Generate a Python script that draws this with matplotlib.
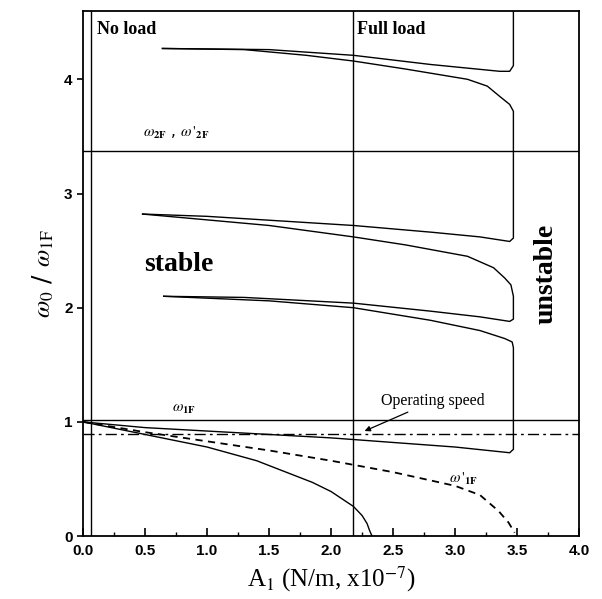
import matplotlib
matplotlib.use("Agg")
import matplotlib.pyplot as plt
import numpy as np

plt.rcParams["mathtext.fontset"] = "stix"

# ---- data ----
no_load_x = 0.06
full_load_x = 2.18
w2F_level = 3.37
w1F_level = 1.02
operating_speed = 0.895

# dashed omega'_1F curve
w1F_prime_x = [0.0, 0.5, 1.0, 1.5, 2.0, 2.5, 3.0, 3.2, 3.35, 3.43, 3.48]
w1F_prime_y = [1.0, 0.91, 0.83, 0.75, 0.66, 0.56, 0.44, 0.36, 0.22, 0.12, 0.03]

# lower solid mode-1 curve
m1_low_x = [0.0, 0.5, 1.0, 1.4, 1.85, 2.0, 2.18, 2.25, 2.29, 2.31, 2.33]
m1_low_y = [1.0, 0.89, 0.78, 0.66, 0.47, 0.39, 0.26, 0.18, 0.11, 0.05, 0.0]

# upper solid mode-1 curve (joins the lowest 2nd-pair branch at the stability limit)
m1_up_x = [0.0, 0.5, 1.0, 1.5, 2.0, 2.5, 3.0, 3.44, 3.47, 3.47, 3.46, 3.40, 3.2, 2.8, 2.18, 1.5, 0.65]
m1_up_y = [1.0, 0.95, 0.92, 0.89, 0.86, 0.82, 0.78, 0.73, 0.76, 1.65, 1.70, 1.73, 1.80, 1.89, 2.00, 2.06, 2.10]

# lower pair (upper branch) joined to middle pair (lower branch)
pairA_x = [0.65, 1.3, 2.18, 2.8, 3.2, 3.44, 3.47, 3.47, 3.45, 3.40, 3.31, 3.1, 2.6, 2.18, 1.5, 0.48]
pairA_y = [2.10, 2.09, 2.04, 1.97, 1.92, 1.88, 1.90, 2.10, 2.20, 2.26, 2.35, 2.45, 2.55, 2.62, 2.72, 2.82]

# middle pair (upper branch) joined to top pair (lower branch)
pairB_x = [0.48, 1.0, 2.18, 2.82, 3.2, 3.44, 3.47, 3.47, 3.44, 3.36, 3.26, 3.1, 2.6, 2.18, 1.8, 1.3, 0.64]
pairB_y = [2.82, 2.80, 2.72, 2.66, 2.62, 2.58, 2.61, 3.72, 3.78, 3.85, 3.94, 4.00, 4.09, 4.16, 4.21, 4.26, 4.27]

# top pair (upper branch), running to the top of the plot
pairC_x = [0.64, 1.5, 2.18, 2.8, 3.36, 3.44, 3.47, 3.47]
pairC_y = [4.27, 4.26, 4.21, 4.13, 4.07, 4.07, 4.12, 4.60]

xticks = [0.0, 0.5, 1.0, 1.5, 2.0, 2.5, 3.0, 3.5, 4.0]
yticks = [0, 1, 2, 3, 4]

# ---- plot ----
fig = plt.figure(figsize=(6.02, 5.99), dpi=100)
ax = fig.add_axes([0.138, 0.105, 0.824, 0.877])
ax.set_xlim(0, 4.0)
ax.set_ylim(0, 4.6)

lw = 1.0
k = "black"
ax.axvline(no_load_x, color=k, lw=lw)
ax.axvline(full_load_x, color=k, lw=lw)
ax.axhline(w2F_level, color=k, lw=lw)
ax.axhline(w1F_level, color=k, lw=lw)
ax.axhline(operating_speed, color=k, lw=lw, dashes=(8, 3, 2, 3))

ax.plot(w1F_prime_x, w1F_prime_y, color=k, lw=1.3, dashes=(4, 3))
for xs, ys in [(m1_low_x, m1_low_y), (m1_up_x, m1_up_y), (pairA_x, pairA_y),
               (pairB_x, pairB_y), (pairC_x, pairC_y)]:
    ax.plot(xs, ys, color=k, lw=lw)

serif = "Liberation Serif"
ax.text(0.11, 4.44, "No load", fontfamily=serif, fontweight="bold", fontsize=13, va="center")
ax.text(2.21, 4.44, "Full load", fontfamily=serif, fontweight="bold", fontsize=13, va="center")
ax.text(0.49, 2.38, "stable", fontfamily=serif, fontweight="bold", fontsize=20, va="center")
ax.text(3.73, 2.3, "unstable", fontfamily=serif, fontweight="bold", fontsize=20,
        rotation=90, va="center", ha="center")
ax.text(0.48, 3.53, r"$\omega_{\mathbf{2F}}$ , $\omega\,'_{\mathbf{2F}}$", fontsize=11, va="center")
ax.text(0.72, 1.12, r"$\omega_{\mathbf{1F}}$", fontsize=11, va="center")
ax.text(2.95, 0.5, r"$\omega\,'_{\mathbf{1F}}$", fontsize=11, va="center")
ax.annotate("Operating speed", xy=(2.27, 0.92), xytext=(2.4, 1.18),
            fontfamily=serif, fontsize=11.5, va="center",
            arrowprops=dict(arrowstyle="-|>", color=k, lw=0.9, shrinkA=0, shrinkB=0,
                            mutation_scale=8))

ax.set_xticks(xticks)
ax.set_xticklabels([f"{v:.1f}" for v in xticks])
ax.set_xticks(np.arange(0.25, 4.0, 0.5), minor=True)
ax.set_yticks(yticks)
ax.tick_params(axis="x", which="major", direction="in", length=6, width=1.2, pad=6)
ax.tick_params(axis="x", which="minor", direction="in", length=3, width=1)
ax.tick_params(axis="y", which="major", direction="out", length=4, width=1.2)
for lab in ax.get_xticklabels() + ax.get_yticklabels():
    lab.set_fontfamily("Liberation Sans")
    lab.set_fontweight("bold")
    lab.set_fontsize(11)
for s in ax.spines.values():
    s.set_linewidth(1.3)

ax.set_xlabel(r"A$_{\mathrm{1}}$ (N/m, x10$^{\mathrm{-7}}$)", fontfamily=serif, fontsize=18, labelpad=4)
ax.set_ylabel(r"$\omega_{\mathrm{0}}$ / $\omega_{\mathrm{1F}}$", fontsize=18, labelpad=6)

fig.savefig("out.png", dpi=100)
